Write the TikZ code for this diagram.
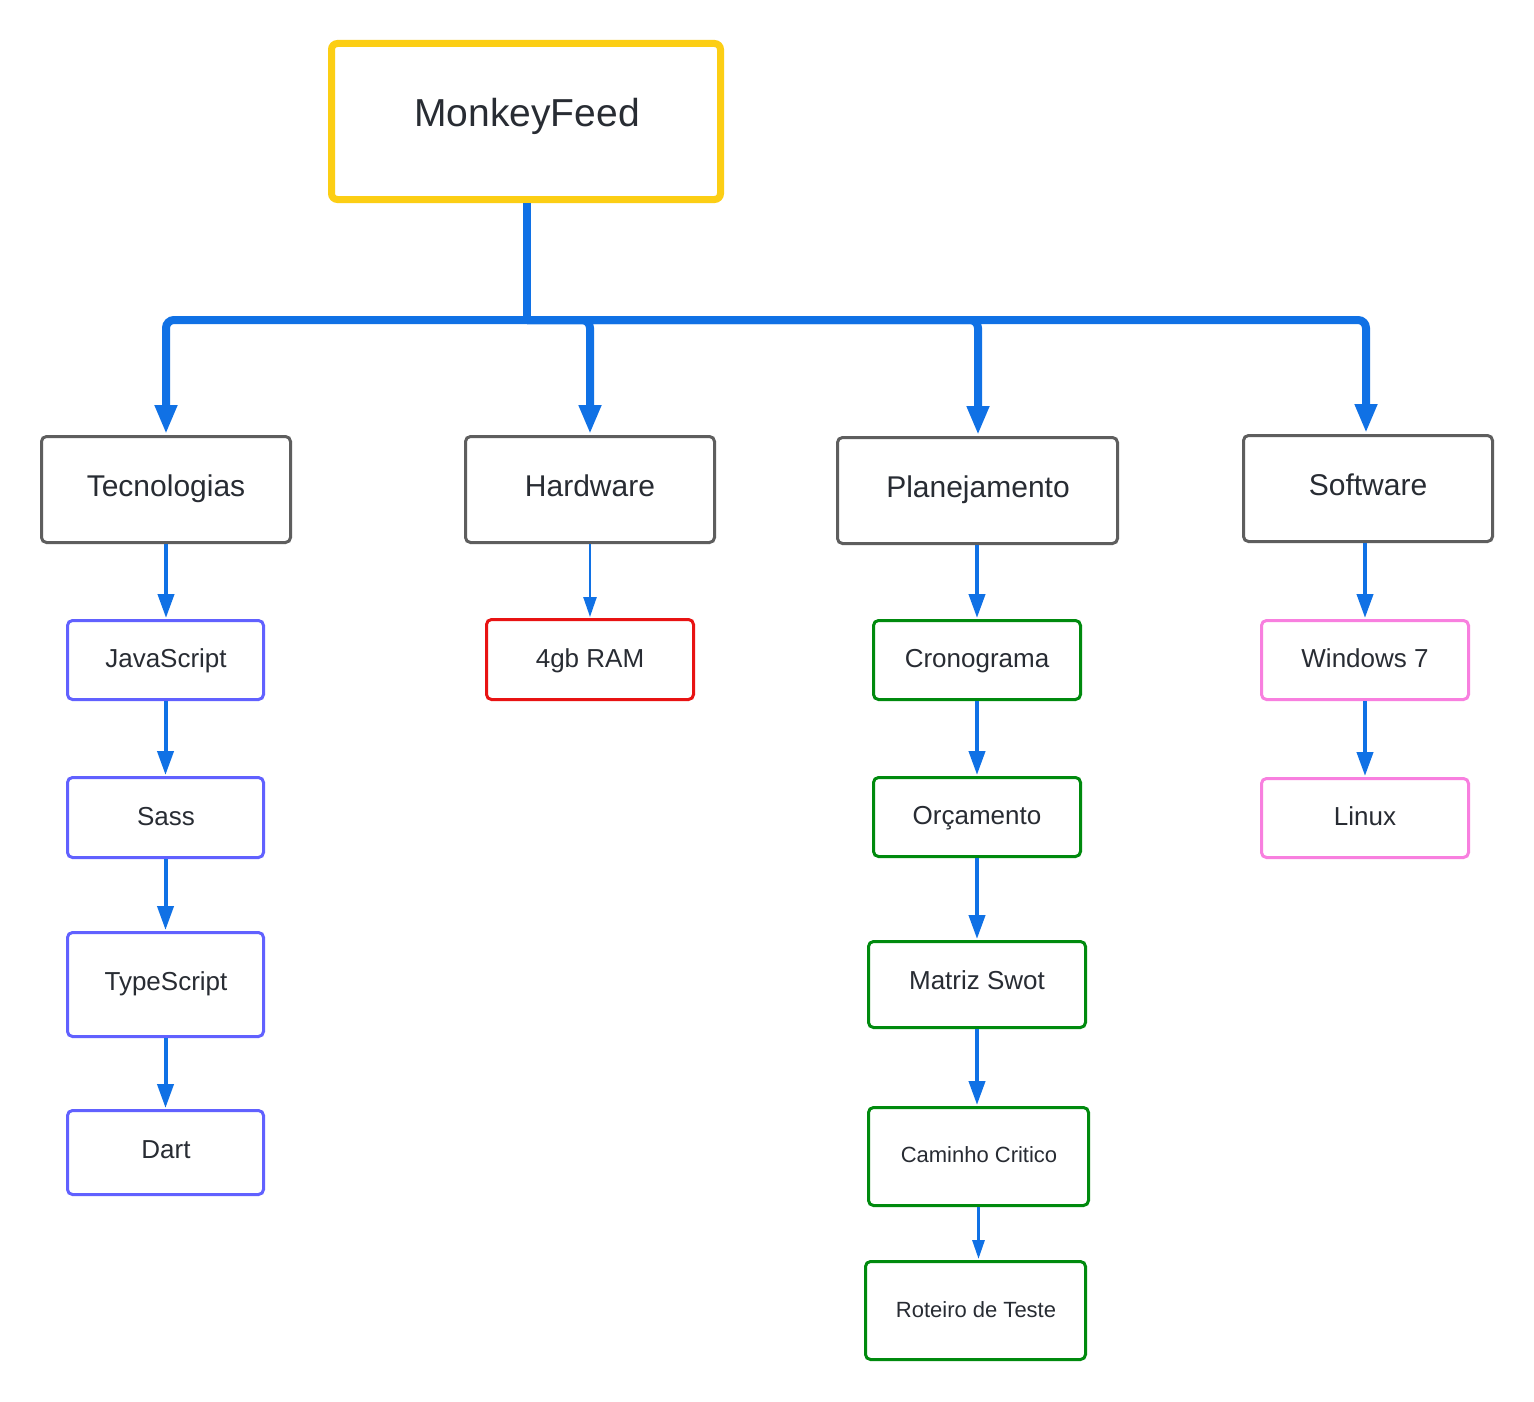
\documentclass[tikz,border=0pt]{standalone}
\usepackage{fontspec}
\setmainfont{Liberation Sans}
\usetikzlibrary{arrows.meta}
\definecolor{cblue}{HTML}{1071E5}
\definecolor{cyellow}{HTML}{FCCE14}
\definecolor{cgray}{HTML}{5E5E5E}
\definecolor{cpurple}{HTML}{6161FF}
\definecolor{cred}{HTML}{E81313}
\definecolor{cgreen}{HTML}{008A0E}
\definecolor{cpink}{HTML}{F87FDF}
\definecolor{ctext}{HTML}{282C33}
\tikzset{
  box/.style={draw, rectangle, rounded corners=5pt, inner sep=0pt, line width=3pt},
  rootbox/.style={box, draw=cyellow, line width=7pt, rounded corners=6pt},
  grayBox/.style={box, draw=cgray},
  purpleBox/.style={box, draw=cpurple},
  redBox/.style={box, draw=cred},
  greenBox/.style={box, draw=cgreen},
  pinkBox/.style={box, draw=cpink},
  lbl/.style={anchor=base, inner sep=0pt, text=ctext},
  huge/.style={font=\fontsize{39pt}{44pt}\selectfont},
  big/.style={font=\fontsize{30pt}{34pt}\selectfont},
  mid/.style={font=\fontsize{26pt}{30pt}\selectfont},
  small/.style={font=\fontsize{22pt}{26pt}\selectfont},
  trunk/.style={draw=cblue, line width=8pt, rounded corners=8pt},
  mainarrow/.style={trunk, -{Triangle[length=29pt,width=21pt]}, shorten >=1pt},
  subarrow/.style={draw=cblue, line width=4pt, -{Triangle[length=24pt,width=16pt]}, shorten >=1pt},
  thinarrow/.style={draw=cblue, line width=2.5pt, -{Triangle[length=20pt,width=13pt]}, shorten >=1pt},
  thinnerarrow/.style={draw=cblue, line width=3pt, -{Triangle[length=19pt,width=12pt]}, shorten >=1pt},
}
\begin{document}
\begin{tikzpicture}[x=1pt,y=-1pt]
\useasboundingbox[fill=white] (0,0) rectangle (1534,1402);

% boxes
\node[rootbox, minimum width=389pt, minimum height=156pt] (mf) at (526,121.5) {};
\node[grayBox, minimum width=249pt, minimum height=106pt] (tec) at (166,489.5) {};
\node[grayBox, minimum width=249pt, minimum height=106pt] (hw) at (590,489.5) {};
\node[grayBox, minimum width=280pt, minimum height=106pt] (plan) at (977.5,490.5) {};
\node[grayBox, minimum width=249pt, minimum height=106pt] (sw) at (1368,488.5) {};

\node[purpleBox, minimum width=196pt, minimum height=79pt] (js) at (165.5,660) {};
\node[purpleBox, minimum width=196pt, minimum height=80pt] (sass) at (165.5,817.5) {};
\node[purpleBox, minimum width=196pt, minimum height=104pt] (ts) at (165.5,984.5) {};
\node[purpleBox, minimum width=196pt, minimum height=84pt] (dart) at (165.5,1152.5) {};

\node[redBox, minimum width=207pt, minimum height=80pt] (ram) at (590,659.5) {};

\node[greenBox, minimum width=207pt, minimum height=79pt] (cron) at (977,660) {};
\node[greenBox, minimum width=207pt, minimum height=79pt] (orc) at (977,817) {};
\node[greenBox, minimum width=217pt, minimum height=86pt] (swot) at (977,984.5) {};
\node[greenBox, minimum width=220pt, minimum height=98pt] (cam) at (978.5,1156.5) {};
\node[greenBox, minimum width=220pt, minimum height=98pt] (rot) at (975.5,1310.5) {};

\node[pinkBox, minimum width=207pt, minimum height=79pt] (win) at (1365,660) {};
\node[pinkBox, minimum width=207pt, minimum height=79pt] (lin) at (1365,818) {};

% labels
\node[lbl, huge] (tmf) at (527,127) {MonkeyFeed};
\node[lbl, big] (ttec) at (166,496) {Tecnologias};
\node[lbl, big] (thw) at (590,496) {Hardware};
\node[lbl, big] (tplan) at (978,497) {Planejamento};
\node[lbl, big] (tsw) at (1368,495) {Software};

\node[lbl, mid] (tjs) at (166,667) {JavaScript};
\node[lbl, mid] (tsass) at (166,825) {Sass};
\node[lbl, mid] (tts) at (166,990) {TypeScript};
\node[lbl, mid] (tdart) at (166,1158) {Dart};
\node[lbl, mid] (tram) at (590,667) {4gb RAM};
\node[lbl, mid] (tcron) at (977,667) {Cronograma};
\node[lbl, mid] (torc) at (977,824) {Orçamento};
\node[lbl, mid] (tswot) at (977,989) {Matriz Swot};
\node[lbl, small] (tcam) at (979,1162) {Caminho Critico};
\node[lbl, small] (trot) at (976,1317) {Roteiro de Teste};
\node[lbl, mid] (twin) at (1365,667) {Windows 7};
\node[lbl, mid] (tlin) at (1365,825) {Linux};

% main connectors
\coordinate (j) at (527,320);
\draw[trunk] (mf.south -| j) -- (j);
\draw[mainarrow] (j) -| (tec.north);
\draw[mainarrow] (j) -| (hw.north);
\draw[mainarrow] (j) -| (978,436) coordinate (pt);
\draw[mainarrow] (j) -| (1366,434) coordinate (st);

% sub connectors
\draw[subarrow] (tec.south) -- (tec.south |- js.north);
\draw[subarrow] (js.south) -- (sass.north);
\draw[subarrow] (sass.south) -- (ts.north);
\draw[subarrow] (ts.south) -- (dart.north);
\draw[thinarrow] (hw.south) -- (ram.north);
\draw[subarrow] (plan.south -| cron.north) -- (cron.north);
\draw[subarrow] (cron.south) -- (orc.north);
\draw[subarrow] (orc.south) -- (swot.north);
\draw[subarrow] (swot.south) -- (swot.south |- cam.north);
\draw[thinnerarrow] (cam.south) -- (cam.south |- rot.north);
\draw[subarrow] (sw.south -| win.north) -- (win.north);
\draw[subarrow] (win.south) -- (lin.north);
\end{tikzpicture}
\end{document}
